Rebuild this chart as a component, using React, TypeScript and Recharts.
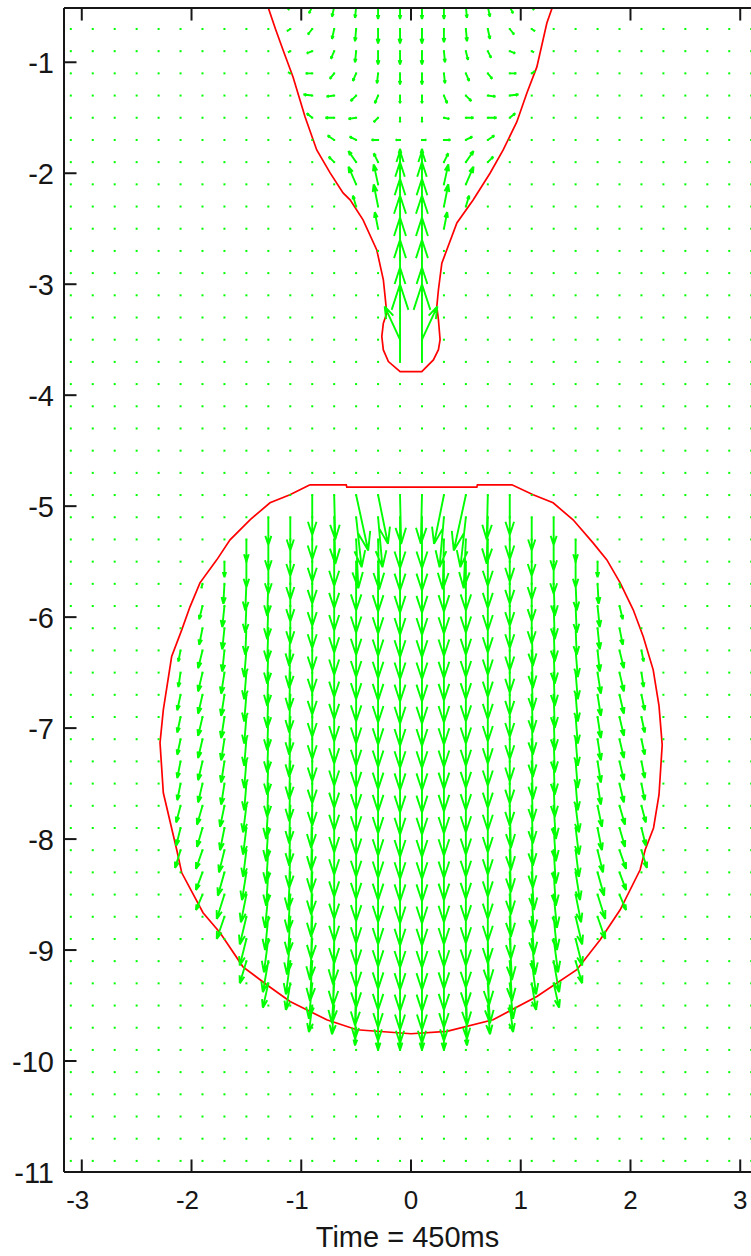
import React from "react";
import { ComposedChart, XAxis, YAxis, Line, Scatter, ReferenceLine, Label } from "recharts";

// ---------- axes ----------
const X_DOMAIN: [number, number] = [-3.162, 3.162];
const Y_DOMAIN: [number, number] = [-11, -0.511];
const xTicks = [-3, -2, -1, 0, 1, 2, 3];
const yTicks = [-11, -10, -9, -8, -7, -6, -5, -4, -3, -2, -1];
const timeLabel = "Time = 450ms";

// ---------- quiver grid (dots) ----------
const gridX = [-3.1, -2.9, -2.7, -2.5, -2.3, -2.1, -1.9, -1.7, -1.5, -1.3, -1.1, -0.9, -0.7, -0.5, -0.3, -0.1,
  0.1, 0.3, 0.5, 0.7, 0.9, 1.1, 1.3, 1.5, 1.7, 1.9, 2.1, 2.3, 2.5, 2.7, 2.9, 3.1];
const gridY = [-0.7, -0.9, -1.1, -1.3, -1.5, -1.7, -1.9, -2.1, -2.3, -2.5, -2.7, -2.9, -3.1, -3.3, -3.5, -3.7,
  -3.9, -4.1, -4.3, -4.5, -4.7, -4.9, -5.1, -5.3, -5.5, -5.7, -5.9, -6.1, -6.3, -6.5, -6.7, -6.9, -7.1, -7.3,
  -7.5, -7.7, -7.9, -8.1, -8.3, -8.5, -8.7, -8.9, -9.1, -9.3, -9.5, -9.7, -9.9, -10.1, -10.3, -10.5, -10.7, -10.9];

// ---------- interfaces (red) ----------
const topContour: [number, number][] = [
  [-1.3, -0.51], [-1.235, -0.7], [-1.166, -0.889], [-1.075, -1.132], [-0.965, -1.494], [-0.859, -1.79],
  [-0.737, -1.997], [-0.619, -2.177], [-0.555, -2.24], [-0.437, -2.42], [-0.312, -2.691], [-0.252, -2.96],
  [-0.236, -3.112], [-0.221, -3.262], [-0.252, -3.352], [-0.266, -3.472], [-0.252, -3.592], [-0.206, -3.697],
  [-0.099, -3.787], [0.098, -3.787], [0.204, -3.682], [0.25, -3.59], [0.265, -3.5], [0.25, -3.32],
  [0.235, -3.202], [0.25, -3.05], [0.281, -2.81], [0.418, -2.448], [0.566, -2.241], [0.72, -2.0],
  [0.84, -1.79], [0.964, -1.538], [1.056, -1.277], [1.147, -1.042], [1.238, -0.646], [1.286, -0.51],
];
const dropContour: [number, number][] = [
  [-0.92, -4.808], [-0.59, -4.808], [-0.585, -4.829], [0.6, -4.829], [0.605, -4.808], [0.92, -4.808],
  [1.113, -4.898], [1.295, -4.97], [1.477, -5.123], [1.659, -5.331], [1.785, -5.484], [1.906, -5.691],
  [2.025, -5.934], [2.116, -6.175], [2.207, -6.475], [2.26, -6.8], [2.289, -7.15], [2.26, -7.6],
  [2.21, -7.9], [2.134, -8.096], [2.088, -8.277], [1.906, -8.637], [1.724, -8.907], [1.511, -9.177],
  [1.147, -9.418], [0.748, -9.628], [0.326, -9.733], [0, -9.754], [-0.494, -9.718], [-0.768, -9.628],
  [-1.102, -9.463], [-1.315, -9.313], [-1.531, -9.151], [-1.74, -8.844], [-1.895, -8.664], [-2.089, -8.304],
  [-2.135, -8.096], [-2.257, -7.583], [-2.287, -7.132], [-2.257, -6.835], [-2.226, -6.64], [-2.181, -6.355],
  [-2.089, -6.115], [-2.014, -5.907], [-1.923, -5.691], [-1.77, -5.484], [-1.649, -5.304], [-1.467, -5.123],
  [-1.285, -4.97], [-1.103, -4.898], [-0.92, -4.808],
];

// ---------- velocity field: upper thread ----------
const N = null;
const topCols = [-1.1, -0.9, -0.7, -0.5, -0.3, -0.1, 0.1, 0.3, 0.5, 0.7, 0.9, 1.1];
const topRows = [-0.5, -0.7, -0.9, -1.1, -1.3, -1.5, -1.7, -1.9, -2.1, -2.3, -2.5, -2.7, -2.9, -3.1, -3.3, -3.5, -3.7];
const topU: (number | null)[][] = [
  [-0.02, -0.03, -0.02, -0.01, 0, 0, 0, 0, 0.01, 0.02, 0.03, 0.02],
  [-0.03, -0.04, -0.02, -0.01, 0, 0, 0, 0, 0.01, 0.02, 0.04, 0.03],
  [-0.02, -0.05, -0.03, -0.01, 0, 0, 0, 0.01, 0.02, 0.03, 0.05, 0.02],
  [-0.02, -0.06, -0.04, -0.03, -0.01, 0, 0, 0.01, 0.03, 0.04, 0.06, 0.03],
  [N, -0.08, -0.07, -0.05, -0.03, 0, 0, 0.03, 0.05, 0.07, 0.08, N],
  [N, -0.05, -0.08, -0.07, -0.04, 0, 0, 0.05, 0.07, 0.08, 0.05, N],
  [N, N, -0.06, -0.06, -0.06, -0.04, 0.04, 0.06, 0.06, 0.06, N, N],
  [N, N, -0.05, -0.07, -0.04, 0, 0, 0.04, 0.07, 0.05, N, N],
  [N, N, N, -0.07, -0.04, 0, 0, 0.04, 0.07, N, N, N],
  [N, N, N, -0.03, -0.04, 0, 0, 0.04, 0.03, N, N, N],
  [N, N, N, N, -0.03, 0, 0, 0.03, N, N, N, N],
  [N, N, N, N, N, 0, 0, N, N, N, N, N],
  [N, N, N, N, N, 0, 0, N, N, N, N, N],
  [N, N, N, N, N, 0, 0, N, N, N, N, N],
  [N, N, N, N, N, 0, 0, N, N, N, N, N],
  [N, N, N, N, N, -0.14, 0.14, N, N, N, N, N],
  [N, N, N, N, N, 0, 0, N, N, N, N, N],
];
const topV: (number | null)[][] = [
  [-0.03, -0.06, -0.09, -0.1, -0.11, -0.11, -0.11, -0.11, -0.1, -0.09, -0.06, -0.03],
  [-0.02, -0.05, -0.09, -0.11, -0.13, -0.13, -0.13, -0.12, -0.11, -0.09, -0.05, -0.02],
  [-0.01, -0.02, -0.07, -0.1, -0.12, -0.12, -0.12, -0.1, -0.08, -0.06, -0.02, -0.01],
  [0.01, 0, -0.05, -0.07, -0.09, -0.1, -0.1, -0.09, -0.07, -0.05, 0, 0.02],
  [N, 0.01, -0.01, -0.05, -0.07, -0.07, -0.07, -0.07, -0.05, -0.01, 0.01, N],
  [N, 0.04, 0, -0.01, -0.04, -0.04, -0.04, -0.01, 0, 0, 0.04, N],
  [N, N, 0.04, 0.03, 0, 0, 0, 0, 0.03, 0.04, N, N],
  [N, N, 0.05, 0.1, 0.08, 0.12, 0.12, 0.08, 0.1, 0.05, N, N],
  [N, N, N, 0.16, 0.18, 0.3, 0.3, 0.18, 0.16, N, N, N],
  [N, N, N, 0.1, 0.2, 0.4, 0.4, 0.2, 0.1, N, N, N],
  [N, N, N, N, 0.15, 0.45, 0.45, 0.15, N, N, N, N],
  [N, N, N, N, N, 0.5, 0.5, N, N, N, N, N],
  [N, N, N, N, N, 0.5, 0.5, N, N, N, N, N],
  [N, N, N, N, N, 0.5, 0.5, N, N, N, N, N],
  [N, N, N, N, N, 0.45, 0.45, N, N, N, N, N],
  [N, N, N, N, N, 0.3, 0.3, N, N, N, N, N],
  [N, N, N, N, N, 0.7, 0.7, N, N, N, N, N],
];

// ---------- velocity field: falling drop (per column, rows from first row downward) ----------
const dropCols = [-2.1, -1.9, -1.7, -1.5, -1.3, -1.1, -0.9, -0.7, -0.5, -0.3, -0.1, 0.1, 0.3, 0.5, 0.7, 0.9, 1.1, 1.3, 1.5, 1.7, 1.9, 2.1];
const dropFirstRow = [-6.3, -5.7, -5.5, -5.3, -5.1, -5.1, -4.9, -4.9, -4.9, -4.9, -4.9, -4.9, -4.9, -4.9, -4.9, -4.9, -5.1, -5.1, -5.3, -5.5, -5.7, -6.3];
const dropV: number[][] = [
  [-0.1, -0.13, -0.14, -0.14, -0.14, -0.15, -0.15, -0.15, -0.16, -0.16],
  [-0.04, -0.12, -0.15, -0.16, -0.17, -0.17, -0.17, -0.17, -0.17, -0.17, -0.17, -0.17, -0.17, -0.16, -0.14],
  [-0.14, -0.18, -0.19, -0.19, -0.19, -0.19, -0.19, -0.19, -0.19, -0.19, -0.19, -0.19, -0.2, -0.2, -0.21, -0.22, -0.2],
  [-0.2, -0.23, -0.24, -0.24, -0.24, -0.24, -0.24, -0.24, -0.24, -0.24, -0.24, -0.24, -0.24, -0.24, -0.24, -0.25, -0.25, -0.25, -0.24, -0.2],
  [-0.25, -0.28, -0.29, -0.29, -0.3, -0.3, -0.3, -0.3, -0.3, -0.3, -0.3, -0.3, -0.3, -0.3, -0.3, -0.3, -0.3, -0.3, -0.3, -0.3, -0.28, -0.22],
  [-0.3, -0.33, -0.34, -0.34, -0.34, -0.34, -0.34, -0.34, -0.34, -0.34, -0.34, -0.34, -0.34, -0.34, -0.34, -0.34, -0.34, -0.34, -0.34, -0.32, -0.3, -0.24],
  [-0.36, -0.38, -0.38, -0.38, -0.38, -0.38, -0.38, -0.38, -0.38, -0.38, -0.38, -0.38, -0.38, -0.38, -0.38, -0.38, -0.38, -0.38, -0.38, -0.38, -0.37, -0.36, -0.32, -0.24],
  [-0.4, -0.42, -0.42, -0.42, -0.42, -0.42, -0.42, -0.42, -0.42, -0.42, -0.42, -0.42, -0.42, -0.42, -0.42, -0.42, -0.42, -0.42, -0.42, -0.42, -0.41, -0.4, -0.36, -0.26],
  [-0.5, -0.45, -0.44, -0.44, -0.44, -0.44, -0.44, -0.44, -0.44, -0.44, -0.44, -0.44, -0.44, -0.44, -0.44, -0.44, -0.44, -0.44, -0.44, -0.44, -0.44, -0.42, -0.38, -0.3, -0.16],
  [-0.44, -0.45, -0.45, -0.45, -0.45, -0.45, -0.45, -0.45, -0.45, -0.45, -0.45, -0.45, -0.45, -0.45, -0.45, -0.45, -0.45, -0.45, -0.45, -0.45, -0.45, -0.44, -0.4, -0.32, -0.2],
  [-0.44, -0.46, -0.46, -0.46, -0.46, -0.46, -0.46, -0.46, -0.46, -0.46, -0.46, -0.46, -0.46, -0.46, -0.46, -0.46, -0.46, -0.46, -0.46, -0.46, -0.46, -0.45, -0.42, -0.34, -0.2],
  [-0.44, -0.46, -0.46, -0.46, -0.46, -0.46, -0.46, -0.46, -0.46, -0.46, -0.46, -0.46, -0.46, -0.46, -0.46, -0.46, -0.46, -0.46, -0.46, -0.46, -0.46, -0.45, -0.42, -0.34, -0.2],
  [-0.44, -0.45, -0.45, -0.45, -0.45, -0.45, -0.45, -0.45, -0.45, -0.45, -0.45, -0.45, -0.45, -0.45, -0.45, -0.45, -0.45, -0.45, -0.45, -0.45, -0.45, -0.44, -0.4, -0.32, -0.2],
  [-0.5, -0.45, -0.44, -0.44, -0.44, -0.44, -0.44, -0.44, -0.44, -0.44, -0.44, -0.44, -0.44, -0.44, -0.44, -0.44, -0.44, -0.44, -0.44, -0.44, -0.44, -0.42, -0.38, -0.3, -0.16],
  [-0.4, -0.42, -0.42, -0.42, -0.42, -0.42, -0.42, -0.42, -0.42, -0.42, -0.42, -0.42, -0.42, -0.42, -0.42, -0.42, -0.42, -0.42, -0.42, -0.42, -0.41, -0.4, -0.36, -0.26],
  [-0.36, -0.38, -0.38, -0.38, -0.38, -0.38, -0.38, -0.38, -0.38, -0.38, -0.38, -0.38, -0.38, -0.38, -0.38, -0.38, -0.38, -0.38, -0.38, -0.38, -0.37, -0.36, -0.32, -0.24],
  [-0.3, -0.33, -0.34, -0.34, -0.34, -0.34, -0.34, -0.34, -0.34, -0.34, -0.34, -0.34, -0.34, -0.34, -0.34, -0.34, -0.34, -0.34, -0.34, -0.32, -0.3, -0.24],
  [-0.25, -0.28, -0.29, -0.29, -0.3, -0.3, -0.3, -0.3, -0.3, -0.3, -0.3, -0.3, -0.3, -0.3, -0.3, -0.3, -0.3, -0.3, -0.3, -0.3, -0.28, -0.22],
  [-0.2, -0.23, -0.24, -0.24, -0.24, -0.24, -0.24, -0.24, -0.24, -0.24, -0.24, -0.24, -0.24, -0.24, -0.24, -0.25, -0.25, -0.25, -0.24, -0.2],
  [-0.14, -0.18, -0.19, -0.19, -0.19, -0.19, -0.19, -0.19, -0.19, -0.19, -0.19, -0.19, -0.2, -0.2, -0.21, -0.22, -0.2],
  [-0.04, -0.12, -0.15, -0.16, -0.17, -0.17, -0.17, -0.17, -0.17, -0.17, -0.17, -0.17, -0.17, -0.16, -0.14],
  [-0.1, -0.13, -0.14, -0.14, -0.14, -0.15, -0.15, -0.15, -0.16, -0.16],
];
const dropU: number[][] = [
  [-0.02, -0.02, -0.03, -0.03, -0.03, -0.03, -0.03, -0.04, -0.04, -0.05],
  [-0.01, -0.03, -0.03, -0.04, -0.04, -0.04, -0.04, -0.04, -0.04, -0.04, -0.05, -0.05, -0.06, -0.06, -0.06],
  [0, -0.01, -0.02, -0.02, -0.02, -0.03, -0.03, -0.03, -0.03, -0.03, -0.03, -0.04, -0.04, -0.05, -0.06, -0.07, -0.07],
  [0, 0, -0.01, -0.01, -0.01, -0.02, -0.02, -0.02, -0.02, -0.02, -0.02, -0.02, -0.03, -0.03, -0.03, -0.04, -0.05, -0.06, -0.06, -0.06],
  [0, 0, 0, -0.01, -0.01, -0.01, -0.01, -0.01, -0.01, -0.01, -0.01, -0.01, -0.01, -0.02, -0.02, -0.02, -0.02, -0.03, -0.03, -0.04, -0.05, -0.05],
  [0, 0, 0, 0, 0, -0.01, -0.01, -0.01, -0.01, -0.01, -0.01, -0.01, -0.01, -0.01, -0.01, -0.01, -0.02, -0.02, -0.02, -0.03, -0.04, -0.04],
  [0, 0, 0, 0, 0, 0, 0, 0, 0, 0, 0, 0, 0, 0, -0.01, -0.01, -0.01, -0.01, -0.01, -0.01, -0.02, -0.02, -0.03, -0.03],
  [0.01, 0.01, 0, 0, 0, 0, 0, 0, 0, 0, 0, 0, 0, 0, 0, 0, 0, 0, 0, 0, -0.01, -0.01, -0.02, -0.02],
  [0.11, 0.05, 0.02, 0, 0, 0, 0, 0, 0, 0, 0, 0, 0, 0, 0, 0, 0, 0, 0, 0, 0, 0, -0.01, -0.01, -0.01],
  [0.09, 0.04, 0.01, 0, 0, 0, 0, 0, 0, 0, 0, 0, 0, 0, 0, 0, 0, 0, 0, 0, 0, 0, 0, 0, 0],
  [0.01, 0, 0, 0, 0, 0, 0, 0, 0, 0, 0, 0, 0, 0, 0, 0, 0, 0, 0, 0, 0, 0, 0, 0, 0],
  [-0.01, 0, 0, 0, 0, 0, 0, 0, 0, 0, 0, 0, 0, 0, 0, 0, 0, 0, 0, 0, 0, 0, 0, 0, 0],
  [-0.09, -0.04, -0.01, 0, 0, 0, 0, 0, 0, 0, 0, 0, 0, 0, 0, 0, 0, 0, 0, 0, 0, 0, 0, 0, 0],
  [-0.11, -0.05, -0.02, 0, 0, 0, 0, 0, 0, 0, 0, 0, 0, 0, 0, 0, 0, 0, 0, 0, 0, 0, 0.01, 0.01, 0.01],
  [-0.01, -0.01, 0, 0, 0, 0, 0, 0, 0, 0, 0, 0, 0, 0, 0, 0, 0, 0, 0, 0, 0.01, 0.01, 0.02, 0.02],
  [0, 0, 0, 0, 0, 0, 0, 0, 0, 0, 0, 0, 0, 0, 0.01, 0.01, 0.01, 0.01, 0.01, 0.01, 0.02, 0.02, 0.03, 0.03],
  [0, 0, 0, 0, 0, 0.01, 0.01, 0.01, 0.01, 0.01, 0.01, 0.01, 0.01, 0.01, 0.01, 0.01, 0.02, 0.02, 0.02, 0.03, 0.04, 0.04],
  [0, 0, 0, 0.01, 0.01, 0.01, 0.01, 0.01, 0.01, 0.01, 0.01, 0.01, 0.01, 0.02, 0.02, 0.02, 0.02, 0.03, 0.03, 0.04, 0.05, 0.05],
  [0, 0, 0.01, 0.01, 0.01, 0.02, 0.02, 0.02, 0.02, 0.02, 0.02, 0.02, 0.03, 0.03, 0.03, 0.04, 0.05, 0.06, 0.06, 0.06],
  [0, 0.01, 0.02, 0.02, 0.02, 0.03, 0.03, 0.03, 0.03, 0.03, 0.03, 0.04, 0.04, 0.05, 0.06, 0.07, 0.07],
  [0.01, 0.03, 0.03, 0.04, 0.04, 0.04, 0.04, 0.04, 0.04, 0.04, 0.05, 0.05, 0.06, 0.06, 0.06],
  [0.02, 0.02, 0.03, 0.03, 0.03, 0.03, 0.03, 0.04, 0.04, 0.05],
];

// ---------- build library-ready tables ----------
type Pt = { x: number; y: number | null };
const r2 = (n: number) => Math.round(n * 1000) / 1000;

// MATLAB quiver arrow: shaft + two head barbs (alpha = beta = 0.33)
function pushArrow(out: Pt[], x: number, y: number, u: number, v: number) {
  const a = 0.33;
  const b = 0.33;
  const tx = x + u;
  const ty = y + v;
  out.push({ x, y }, { x: tx, y: ty }, { x: tx - a * (u + b * v), y: ty - a * (v - b * u) }, { x: tx, y: null });
  out.push({ x: tx - a * (u - b * v), y: ty - a * (v + b * u) }, { x: tx, y: ty }, { x: tx, y: null });
}

const arrowData: Pt[] = [];
topRows.forEach((ry, i) => {
  topCols.forEach((cx, j) => {
    const u = topU[i][j];
    const v = topV[i][j];
    if (u === null || v === null) return;
    pushArrow(arrowData, cx, ry, u, v);
  });
});
dropCols.forEach((cx, j) => {
  dropV[j].forEach((v, k) => {
    pushArrow(arrowData, cx, r2(dropFirstRow[j] - 0.2 * k), dropU[j][k], v);
  });
});

const dotData = gridY.flatMap((y) => gridX.map((x) => ({ x, y })));
const topLine = topContour.map(([x, y]) => ({ x, y }));
const dropLine = dropContour.map(([x, y]) => ({ x, y }));

const GREEN = "#00ff00";
const RED = "#ff0000";
const INK = "#161616";
const FONT = "'Liberation Sans', Arial, Helvetica, sans-serif";
const TICK_LEN_X = 0.114; // data units (about 12.5 px)
const TICK_LEN_Y = 0.113;

const XTick = (props: any) => {
  const { x, payload } = props;
  const neg = payload.value < 0;
  return (
    <text x={x + (neg ? -4 : 0)} y={1208.5} textAnchor="middle" fontSize={26} fontFamily={FONT} fill={INK}>
      {String(payload.value)}
    </text>
  );
};

const YTick = (props: any) => {
  const { y, payload } = props;
  return (
    <text x={54} y={y + 10.5} textAnchor="end" fontSize={29} fontFamily={FONT} fill={INK}>
      {String(payload.value)}
    </text>
  );
};

const renderDot = (props: any) => (
  <rect x={props.cx - 1} y={props.cy - 1} width={2} height={2} fill={GREEN} />
);

export default function App() {
  return (
    <div style={{ position: "absolute", left: 0, top: 0, width: 751, height: 1256, overflow: "hidden", background: "#fff" }}>
      <ComposedChart width={770} height={1256} margin={{ top: 8, right: 12, bottom: 0, left: 0 }}>
        <XAxis
          type="number"
          dataKey="x"
          domain={X_DOMAIN}
          allowDataOverflow
          ticks={xTicks}
          interval={0}
          tickLine={false}
          tickSize={0}
          tickMargin={0}
          height={84}
          axisLine={{ stroke: INK, strokeWidth: 2 }}
          tick={<XTick />}
        >
          <Label
            content={() => (
              <text x={407.5} y={1247} textAnchor="middle" fontSize={29} fontFamily={FONT} fill={INK}>
                {timeLabel}
              </text>
            )}
          />
        </XAxis>
        <YAxis
          type="number"
          dataKey="y"
          domain={Y_DOMAIN}
          allowDataOverflow
          ticks={yTicks}
          interval={0}
          tickLine={false}
          tickSize={0}
          tickMargin={0}
          width={64}
          axisLine={{ stroke: INK, strokeWidth: 2 }}
          tick={<YTick />}
        />

        <Scatter data={dotData} shape={renderDot} isAnimationActive={false} />

        <Line data={topLine} dataKey="y" stroke={RED} strokeWidth={1.7} dot={false} activeDot={false} isAnimationActive={false} />
        <Line data={dropLine} dataKey="y" stroke={RED} strokeWidth={1.7} dot={false} activeDot={false} isAnimationActive={false} />

        <Line data={arrowData} dataKey="y" stroke={GREEN} strokeWidth={1.9} strokeLinejoin="miter" dot={false} activeDot={false} connectNulls={false} isAnimationActive={false} />

        <ReferenceLine y={Y_DOMAIN[1]} stroke={INK} strokeWidth={2} ifOverflow="visible" />
        {xTicks.map((t) => (
          <ReferenceLine key={"xb" + t} segment={[{ x: t, y: Y_DOMAIN[0] }, { x: t, y: Y_DOMAIN[0] + TICK_LEN_Y }]} stroke={INK} strokeWidth={2} ifOverflow="visible" />
        ))}
        {xTicks.map((t) => (
          <ReferenceLine key={"xt" + t} segment={[{ x: t, y: Y_DOMAIN[1] }, { x: t, y: Y_DOMAIN[1] - TICK_LEN_Y }]} stroke={INK} strokeWidth={2} ifOverflow="visible" />
        ))}
        {yTicks.map((t) => (
          <ReferenceLine key={"yl" + t} segment={[{ x: X_DOMAIN[0], y: t }, { x: X_DOMAIN[0] + TICK_LEN_X, y: t }]} stroke={INK} strokeWidth={2} ifOverflow="visible" />
        ))}
      </ComposedChart>
    </div>
  );
}
